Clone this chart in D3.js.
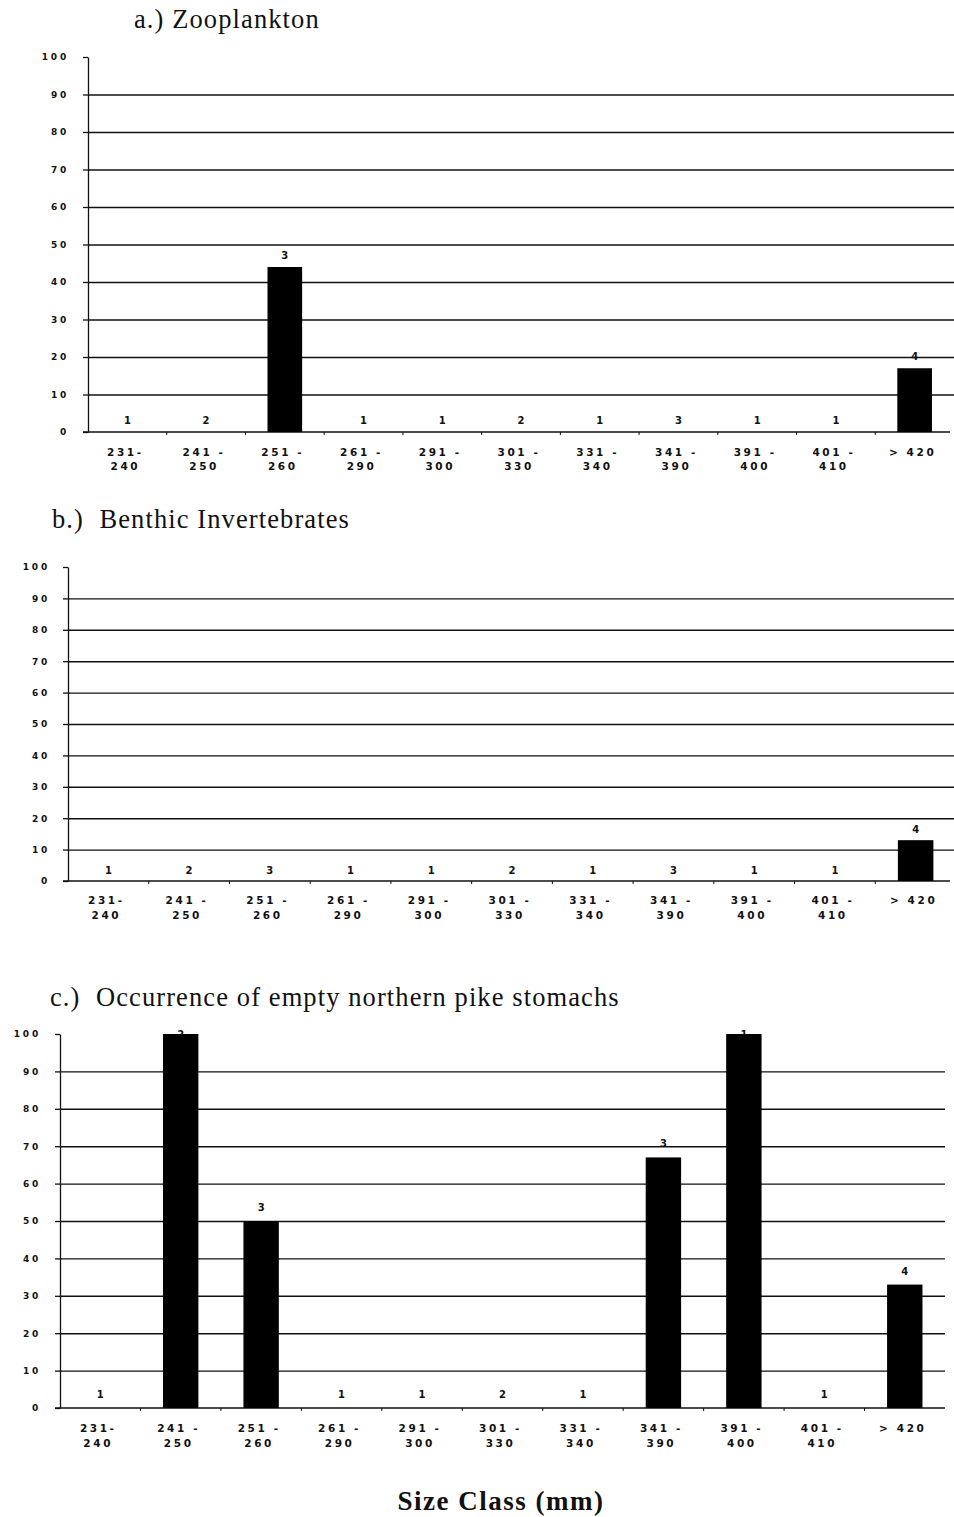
<!DOCTYPE html>
<html>
<head>
<meta charset="utf-8">
<script src="https://cdn.jsdelivr.net/npm/d3@7"></script>
<style>
  body { margin: 0; background: #fff; }
  .title { font-family: "Liberation Serif", serif; font-size: 26.5px; letter-spacing: 1.1px; fill: #111; }
  .ytick text { font-family: "DejaVu Sans", sans-serif; font-weight: bold; font-size: 9px; letter-spacing: 2.8px; fill: #111; }
  .xlab { font-family: "DejaVu Sans", sans-serif; font-weight: bold; font-size: 10.5px; letter-spacing: 2.6px; fill: #111; }
  .nlab { font-family: "DejaVu Sans", sans-serif; font-weight: bold; font-size: 10px; fill: #111; }
  .axtitle { font-family: "Liberation Serif", serif; font-weight: bold; font-size: 27px; letter-spacing: 1.5px; fill: #111; }
</style>
</head>
<body>
<div id="chart"></div>
<script>
// size classes (two-line tick labels)
var classTop = ["231-", "241 -", "251 -", "261 -", "291 -", "301 -", "331 -", "341 -", "391 -", "401 -", "> 420"];
var classBottom = ["240", "250", "260", "290", "300", "330", "340", "390", "400", "410", ""];
var yTicks = [0, 10, 20, 30, 40, 50, 60, 70, 80, 90, 100];

// number of stomachs per class
var sampleN = [1, 2, 3, 1, 1, 2, 1, 3, 1, 1, 4];

// % values per class
var zooplankton = [0, 0, 44, 0, 0, 0, 0, 0, 0, 0, 17];
var benthic = [0, 0, 0, 0, 0, 0, 0, 0, 0, 0, 13];
var emptyStomachs = [0, 100, 50, 0, 0, 0, 0, 67, 100, 0, 33];

var svg = d3.select("#chart").append("svg")
    .attr("width", 954)
    .attr("height", 1517);

function drawPanel(p) {
    var x = d3.scaleBand()
        .domain(d3.range(classTop.length))
        .range([p.left, p.right]);

    var y = d3.scaleLinear()
        .domain([0, 100])
        .range([p.bottom, p.top]);

    svg.append("text")
        .attr("class", "title")
        .attr("x", p.titleX)
        .attr("y", p.titleY)
        .attr("xml:space", "preserve")
        .text(p.title);

    // gridlines
    var grid = svg.append("g")
        .attr("transform", "translate(" + p.left + ",0)")
        .call(d3.axisLeft(y).tickValues(yTicks.slice(1, -1)).tickSize(-(p.gridEnd - p.left)).tickFormat(""));
    grid.select(".domain").remove();
    grid.selectAll("line").attr("stroke", "#111").attr("stroke-width", 1.4);

    // y axis
    var yG = svg.append("g")
        .attr("class", "ytick")
        .attr("transform", "translate(" + p.left + ",0)")
        .call(d3.axisLeft(y).tickValues(yTicks).tickSize(5).tickPadding(p.pad).tickSizeOuter(0));
    yG.select(".domain").attr("stroke", "#111").attr("stroke-width", 1.3);
    yG.selectAll("line").attr("stroke", "#111").attr("stroke-width", 1.3);
    yG.attr("font-family", null).attr("font-size", null);

    // x axis line + boundary ticks
    svg.append("line")
        .attr("x1", p.left - 5).attr("x2", p.axisEnd)
        .attr("y1", y(0)).attr("y2", y(0))
        .attr("stroke", "#111").attr("stroke-width", 1.6);
    svg.append("g").selectAll("line")
        .data(d3.range(1, classTop.length))
        .join("line")
        .attr("x1", function (d) { return x(d); })
        .attr("x2", function (d) { return x(d); })
        .attr("y1", y(0)).attr("y2", y(0) + 3)
        .attr("stroke", "#111").attr("stroke-width", 1);

    // sample size labels (drawn under the bars)
    svg.append("g").selectAll("text")
        .data(p.values)
        .join("text")
        .attr("class", "nlab")
        .attr("text-anchor", "middle")
        .attr("x", function (d, i) { return x(i) + x.bandwidth() / 2; })
        .attr("y", function (d) { return Math.max(y(d) - p.nOff, y(100)) + 4; })
        .text(function (d, i) { return sampleN[i]; });

    // bars
    var bw = x.bandwidth() * 0.44;
    svg.append("g").selectAll("rect")
        .data(p.values)
        .join("rect")
        .attr("x", function (d, i) { return x(i) + (x.bandwidth() - bw) / 2; })
        .attr("y", function (d) { return y(d); })
        .attr("width", bw)
        .attr("height", function (d) { return y(0) - y(d); })
        .attr("fill", "#000");

    // category labels
    var lab = svg.append("g").selectAll("g")
        .data(classTop)
        .join("g")
        .attr("transform", function (d, i) { return "translate(" + (x(i) + x.bandwidth() / 2 - 2) + "," + y(0) + ")"; });
    lab.append("text")
        .attr("class", "xlab")
        .attr("text-anchor", "middle")
        .attr("y", p.lab1)
        .text(function (d) { return d; });
    lab.append("text")
        .attr("class", "xlab")
        .attr("text-anchor", "middle")
        .attr("y", p.lab2)
        .text(function (d, i) { return classBottom[i]; });
}

drawPanel({ title: "a.) Zooplankton", titleX: 134, titleY: 28, values: zooplankton,
    left: 88, right: 954, top: 57, bottom: 432, gridEnd: 954, axisEnd: 950, pad: 14, nOff: 12, lab1: 24, lab2: 38 });

drawPanel({ title: "b.)  Benthic Invertebrates", titleX: 52, titleY: 528, values: benthic,
    left: 68, right: 956, top: 567, bottom: 881, gridEnd: 954, axisEnd: 950, pad: 13, nOff: 11, lab1: 23, lab2: 38 });

drawPanel({ title: "c.)  Occurrence of empty northern pike stomachs", titleX: 50, titleY: 1006, values: emptyStomachs,
    left: 60, right: 945, top: 1034, bottom: 1408, gridEnd: 945, axisEnd: 945, pad: 14, nOff: 14, lab1: 24, lab2: 39 });

svg.append("text")
    .attr("class", "axtitle")
    .attr("text-anchor", "middle")
    .attr("x", 501)
    .attr("y", 1510)
    .text("Size Class (mm)");
</script>
</body>
</html>
